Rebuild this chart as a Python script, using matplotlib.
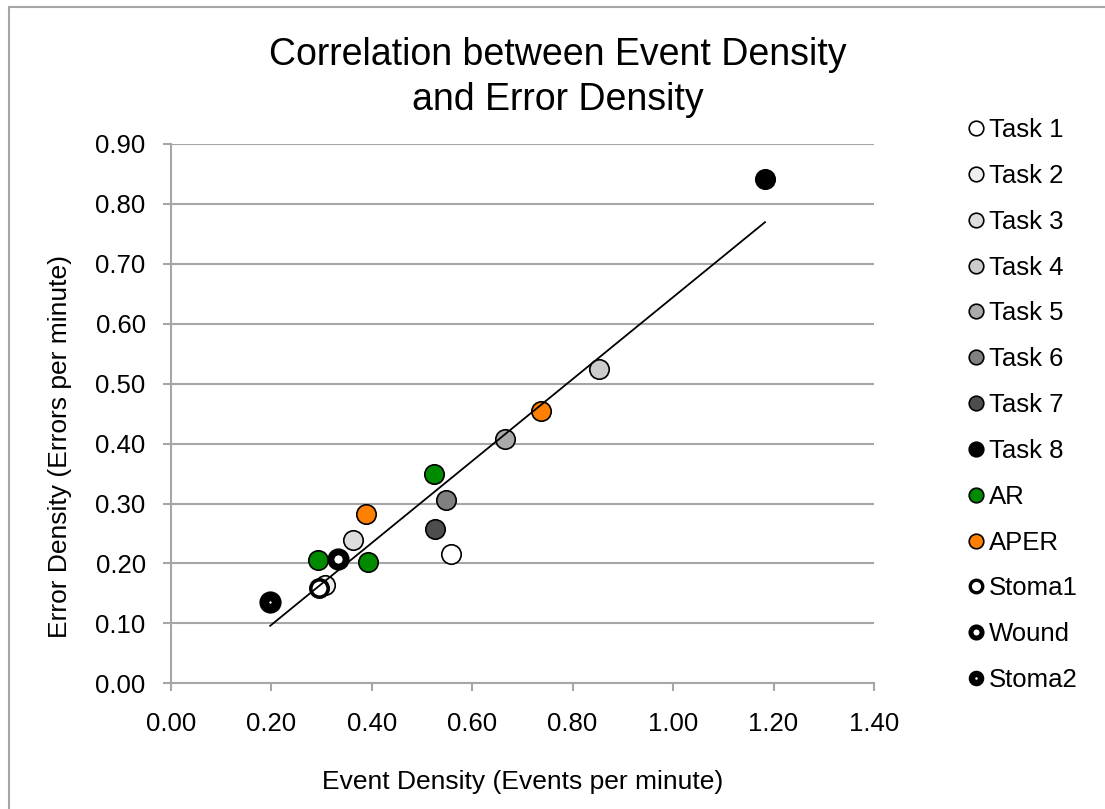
import numpy as np
import matplotlib
matplotlib.use('Agg')
import matplotlib.pyplot as plt
from matplotlib.lines import Line2D

plt.rcParams['font.family'] = ['Liberation Sans', 'DejaVu Sans']

# data
task_names = ['Task 1', 'Task 2', 'Task 3', 'Task 4', 'Task 5', 'Task 6', 'Task 7', 'Task 8']
task_x = [0.557, 0.308, 0.362, 0.852, 0.665, 0.549, 0.527, 1.183]
task_y = [0.216, 0.164, 0.239, 0.525, 0.408, 0.306, 0.258, 0.842]
task_colors = ['#ffffff', '#eeeeee', '#dddddd', '#cccccc', '#aaaaaa', '#808080', '#4d4d4d', '#000000']

ar_x = [0.525, 0.294, 0.392]
ar_y = [0.349, 0.206, 0.203]
aper_x = [0.738, 0.388]
aper_y = [0.454, 0.283]
stoma1_x = [0.296]
stoma1_y = [0.159]
wound_x = [0.334]
wound_y = [0.207]
stoma2_x = [0.198]
stoma2_y = [0.135]

fig = plt.figure(figsize=(11.05, 8.09), dpi=100)
ax = fig.add_axes([170.7 / 1105, 1 - 683.3 / 809, (874 - 170.7) / 1105, (683.3 - 144) / 809])

# outer chart frame
fig.patches.append(plt.Rectangle((9 / 1105, -0.1), 1.2, 1.1 - 7 / 809, transform=fig.transFigure,
                                 fill=False, edgecolor='#a6a6a6', lw=1.5))

handles = []
for i in range(len(task_names)):
    ax.plot(task_x[i], task_y[i], 'o', ms=14, mfc=task_colors[i], mec='black', mew=1.2, zorder=3)
    handles.append(Line2D([], [], ls='none', marker='o', ms=10.5, mfc=task_colors[i], mec='black', mew=1.2))

ax.plot(ar_x, ar_y, 'o', ms=14, mfc='#008a00', mec='black', mew=1.2, zorder=3)
handles.append(Line2D([], [], ls='none', marker='o', ms=10.5, mfc='#008a00', mec='black', mew=1.2))
ax.plot(aper_x, aper_y, 'o', ms=14, mfc='#ff8000', mec='black', mew=1.2, zorder=3)
handles.append(Line2D([], [], ls='none', marker='o', ms=10.5, mfc='#ff8000', mec='black', mew=1.2))
ax.plot(stoma1_x, stoma1_y, 'o', ms=12.5, mfc='white', mec='black', mew=2.6, zorder=3)
handles.append(Line2D([], [], ls='none', marker='o', ms=9, mfc='white', mec='black', mew=2.4))
ax.plot(wound_x, wound_y, 'o', ms=11, mfc='white', mec='black', mew=5, zorder=3)
handles.append(Line2D([], [], ls='none', marker='o', ms=8, mfc='white', mec='black', mew=3.6))
ax.plot(stoma2_x, stoma2_y, 'o', ms=9, mfc='white', mec='black', mew=7, zorder=3)
handles.append(Line2D([], [], ls='none', marker='o', ms=6.6, mfc='white', mec='black', mew=4.6))

labels = task_names + ['AR', 'APER', 'Stoma1', 'Wound', 'Stoma2']

# linear trendline over all points
all_x = np.array(task_x + ar_x + aper_x + stoma1_x + wound_x + stoma2_x)
all_y = np.array(task_y + ar_y + aper_y + stoma1_y + wound_y + stoma2_y)
k, b = np.polyfit(all_x, all_y, 1)
xs = np.array([all_x.min(), all_x.max()])
ax.plot(xs, k * xs + b, color='black', lw=1.3, zorder=4)

ax.set_xlim(0, 1.4)
ax.set_ylim(0, 0.9)
ax.set_xticks(np.arange(0, 1.41, 0.2))
ax.set_yticks(np.arange(0, 0.91, 0.1))
ax.xaxis.set_major_formatter(plt.FormatStrFormatter('%.2f'))
ax.yaxis.set_major_formatter(plt.FormatStrFormatter('%.2f'))
ax.yaxis.grid(True, color='#a6a6a6', lw=1.5)
ax.set_axisbelow(True)
for s in ['top', 'right']:
    ax.spines[s].set_visible(False)
for s in ['left', 'bottom']:
    ax.spines[s].set_color('#a6a6a6')
    ax.spines[s].set_linewidth(1.5)
ax.tick_params(axis='both', direction='out', length=6, width=1.5, color='#a6a6a6', labelsize=18.5)
ax.tick_params(axis='x', pad=15)
ax.tick_params(axis='y', pad=12)

ax.set_xlabel('Event Density (Events per minute)', fontsize=19)
ax.set_ylabel('Error Density (Errors per minute)', fontsize=19)
ax.xaxis.set_label_coords(0.5, -0.161)
ax.yaxis.set_label_coords(-0.140, 0.44)
fig.text(558 / 1105, 1 - 77.5 / 809, 'Correlation between Event Density\nand Error Density',
         ha='center', va='center', fontsize=27, linespacing=1.33)

fig.legend(handles, labels, loc='upper left', bbox_to_anchor=(967 / 1105, 1 - 118 / 809),
           frameon=False, fontsize=18.5, handlelength=0.7, handletextpad=0.15,
           labelspacing=0.85, borderaxespad=0, borderpad=0)

fig.savefig('out.png', dpi=100)
